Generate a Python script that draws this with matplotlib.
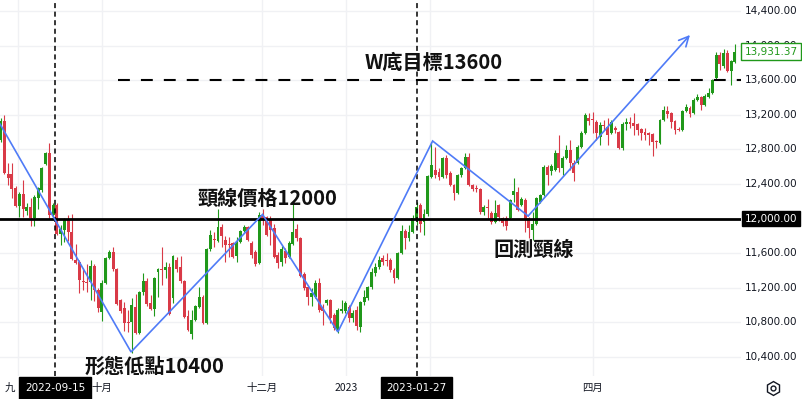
import matplotlib
matplotlib.use("Agg")
import matplotlib.pyplot as plt
import matplotlib.transforms as mtransforms
import numpy as np

plt.rcParams['font.family'] = ['Noto Sans CJK TC', 'DejaVu Sans']

opens = [12909,13129,12516,12516,12354,12146,12284,12088,12134,12007,12238,12331,12631,12758,12042,12157,11822,11868,11996,11845,
         11522,11498,11279,11267,11267,11452,11175,10920,11256,11545,11614,11418,11059,10967,10805,10805,10979,10678,11152,11279,
         11024,10955,11383,11418,11406,11441,11082,11522,11441,11279,10874,10666,10828,10979,11094,10793,11649,11764,11741,11903,
         11753,11707,11718,11568,11730,11857,11903,11718,11614,11487,12030,12019,11984,11892,11579,11498,11626,11556,11707,11880,
         11776,11360,11210,11094,11094,11256,10979,11024,11059,10886,10701,10932,10932,10979,10850,10944,10747,11036,11082,11210,
         11371,11441,11545,11522,11522,11406,11314,11603,11857,11776,11845,11984,12157,11961,12053,12481,12562,12539,12481,12701,
         12527,12389,12296,12504,12585,12712,12389,12354,12342,12076,12134,12065,11961,12157,12007,12007,12007,12273,12308,12157,
         12215,12007,11868,11938,12192,12273,12597,12550,12562,12758,12585,12701,12793,12643,12643,12828,12990,13163,13152,13117,
         12944,13082,13059,12990,13048,13001,12816,13094,13117,13105,13094,13036,13001,12990,12979,12897,12874,13140,13244,13221,
         13129,13036,13024,13244,13279,13221,13371,13406,13313,13406,13452,13626,13891,13764,13914,13706,13810]
highs = [13163,13198,12643,12643,12377,12308,12446,12180,12238,12273,12366,12597,12770,12874,12180,12180,11926,12007,12042,12053,
         11707,11522,11429,11475,11522,11475,11198,11290,11556,11637,11672,11429,11070,11036,10944,11082,11129,11163,11371,11314,
         11117,11325,11429,11672,11498,11487,11580,11556,11568,11290,10944,10944,11001,11210,11117,11660,11868,11845,12111,11938,
         11799,11787,11730,11787,11868,11926,11915,11741,11637,12080,12111,12030,12030,11938,11614,11684,11660,11741,12169,11938,
         11787,11383,11221,11200,11290,11314,11013,11071,11071,10909,10967,11059,11048,11001,10940,10990,11048,11175,11221,11429,
         11487,11568,11580,11600,11545,11429,11614,11926,11880,11926,12042,12192,12180,12111,12505,12886,12828,12585,12712,12735,
         12550,12400,12516,12597,12758,12758,12400,12389,12354,12157,12227,12088,12215,12169,12019,12030,12227,12470,12366,12250,
         12238,12019,12076,12250,12285,12620,12620,12631,12793,12967,12724,12851,12909,12678,12851,13013,13221,13221,13233,13140,
         13117,13140,13163,13140,13070,13013,13117,13163,13175,13221,13105,13048,13048,13001,12990,12909,13152,13302,13302,13233,
         13140,13059,13256,13325,13302,13394,13441,13418,13441,13510,13614,13926,13926,13961,13949,13833,14019]
lows = [12886,12516,12389,12238,12134,12018,12018,12042,11915,11915,12111,12308,12620,12007,12007,11811,11695,11730,11741,11522,
        11475,11140,11175,11152,11059,11048,10920,10816,11244,11533,11394,11001,10909,10701,10690,10450,10666,10666,11117,10990,
        10944,10874,11094,11233,11314,10886,11024,11383,11256,10851,10701,10608,10816,10967,10780,10780,11626,11672,11730,11672,
        11499,11556,11545,11498,11718,11845,11741,11545,11452,11475,11926,11799,11695,11545,11429,11452,11487,11545,11695,11741,
        11325,11175,11001,10990,11082,10920,10770,11001,10793,10712,10680,10909,10909,10805,10810,10712,10690,11001,11059,11187,
        11337,11418,11460,11450,11383,11256,11302,11591,11649,11741,11830,11926,11845,11811,12030,12470,12470,12446,12470,12470,
        12377,12215,12285,12481,12574,12377,12319,12308,12053,12042,12007,11938,11950,11973,11915,11868,11996,12192,12088,12146,
        11845,11776,11753,11926,12180,12262,12389,12504,12550,12539,12504,12690,12562,12435,12631,12816,12979,13082,12990,12909,
        12851,13024,12851,12979,12990,12805,12793,13024,13048,12967,12967,12909,12909,12851,12724,12816,12863,13129,13163,13048,
        12979,13013,13013,13233,13175,13210,13360,13256,13302,13394,13441,13614,13718,13741,13695,13545,13799]
closes = [13129,12527,12470,12342,12146,12284,12111,12134,12007,12250,12354,12585,12758,12042,12157,11822,11880,11996,11845,11533,
          11487,11290,11267,11256,11452,11175,10967,11256,11545,11614,11418,11013,10932,10793,10793,11001,10678,11152,11279,11013,
          10955,11314,11418,11406,11441,10897,11568,11418,11279,10863,10712,10828,10990,11094,10793,11649,11811,11753,11903,11799,
          11695,11695,11556,11730,11857,11903,11753,11579,11475,12042,11996,11811,11868,11556,11487,11649,11545,11718,11845,11776,
          11337,11198,11094,11140,11256,10944,10932,11059,10851,10735,10944,10955,11024,10851,10910,10759,11036,11094,11210,11383,
          11441,11522,11498,11510,11406,11314,11603,11857,11776,11845,12007,12134,11938,12053,12493,12620,12504,12481,12701,12504,
          12389,12296,12504,12585,12712,12389,12342,12342,12076,12134,12123,11961,12065,12019,11950,11915,12215,12319,12100,12227,
          11984,11892,11938,12238,12273,12597,12504,12608,12758,12585,12701,12793,12643,12527,12828,12990,13198,13129,13140,12990,
          13082,13071,12967,13117,13024,12816,13094,13117,13094,13071,13024,12990,12967,12967,12886,12886,13140,13256,13210,13117,
          13024,13024,13244,13290,13210,13371,13406,13313,13418,13452,13602,13891,13787,13914,13706,13822,13931.37]

# pattern annotation vertices (candle index, price)
pattern_idx = [-0.19, 34.8, 69.9, 90.0, 115.3, 140.8, 184.0]
pattern_px = [13094, 10458, 12048, 10690, 12897, 12030, 14123]

price_ticks = [14400, 14000, 13600, 13200, 12800, 12400, 12000, 11600, 11200, 10800, 10400]
month_pos = [4.6, 27.0, 69.8, 92.2, 114.6, 158.0]
month_labels = ['九', '十月', '十二月', '2023', '', '四月']
marked_dates = ['2022-09-15', '2023-01-27']
marked_idx = [14.5, 111.0]
last_price = closes[-1]

W, H = 802, 399
fig = plt.figure(figsize=(W / 100, H / 100), dpi=100)
plot_right = 741
plot_bottom = 376
ax = fig.add_axes([0, (H - plot_bottom) / H, plot_right / W, plot_bottom / H])
spacing = 3.746
ax.set_xlim(-0.7 / spacing, (plot_right - 0.7) / spacing)
scale = 0.0865
ax.set_ylim(10400 - (plot_bottom - 357) / scale, 14400 + 11 / scale)
for s in ax.spines.values():
    s.set_visible(False)
ax.set_xticks([])
ax.set_yticks([])

grid_c = '#f0f1f4'
for p in price_ticks:
    ax.axhline(p, color=grid_c, lw=1.0, zorder=0)
for m in month_pos:
    ax.axvline(m, color=grid_c, lw=1.0, zorder=0)

green = '#20981a'
red = '#d93a47'
n = len(closes)
x = np.arange(n)
o = np.array(opens, float); c = np.array(closes, float)
hh = np.array(highs, float); ll = np.array(lows, float)
cols = [green if cc >= oo else red for oo, cc in zip(o, c)]
ax.vlines(x, ll, hh, colors=cols, lw=0.8, zorder=2)
bottoms = np.minimum(o, c)
heights = np.maximum(np.abs(c - o), 12)
ax.bar(x, heights, bottom=bottoms, width=0.78, color=cols, linewidth=0, zorder=3)

# neckline
ax.axhline(12000, color='black', lw=2.0, zorder=4)
# target dashed line
ax.plot([31.3, (plot_right - 0.7) / spacing], [13600, 13600], color='black', lw=1.5,
        linestyle=(0, (5.7, 5.3)), zorder=4)
# vertical dashed date lines
for mi in marked_idx:
    ax.axvline(mi, color='black', lw=1.1, linestyle=(0, (3.3, 2.3)), zorder=4)

# pattern lines
blue = '#4f7bf7'
ax.plot(pattern_idx[:-1], pattern_px[:-1], color=blue, lw=1.2, zorder=5, solid_joinstyle='miter')
ax.annotate('', xy=(pattern_idx[-1], pattern_px[-1]), xytext=(pattern_idx[-2], pattern_px[-2]),
            arrowprops=dict(arrowstyle='->,head_length=0.7,head_width=0.35', color=blue, lw=1.2,
                            shrinkA=0, shrinkB=0), zorder=5)

# text annotations
tfs = 14.5
tw = 'bold'
ax.text(97.2, 13810, 'W底目標13600', fontsize=tfs, ha='left', va='center', color='#111111', weight=tw, zorder=6)
ax.text(52.4, 12235, '頸線價格12000', fontsize=tfs, ha='left', va='center', color='#111111', weight=tw, zorder=6)
ax.text(22.5, 10290, '形態低點10400', fontsize=tfs, ha='left', va='center', color='#111111', weight=tw, zorder=6)
ax.text(131.6, 11640, '回測頸線', fontsize=tfs, ha='left', va='center', color='#111111', weight=tw, zorder=6)

# right price scale
trans = mtransforms.blended_transform_factory(ax.transAxes, ax.transData)
xr = (plot_right + 30) / plot_right
for p in price_ticks:
    if p == 12000:
        ax.text(xr, p, f'{p:,.2f}', transform=trans, ha='center', va='center', fontsize=7.5,
                color='white', family='DejaVu Sans', clip_on=False, zorder=7,
                bbox=dict(boxstyle='square,pad=0.25', fc='black', ec='black'))
    else:
        ax.text(xr, p, f'{p:,.2f}', transform=trans, ha='center', va='center', fontsize=7.5,
                color='#131722', family='DejaVu Sans', clip_on=False, zorder=7)
ax.text(xr, last_price, f'{last_price:,.2f}', transform=trans, ha='center', va='center', fontsize=7.5,
        color='#20981a', family='DejaVu Sans', clip_on=False, zorder=8,
        bbox=dict(boxstyle='square,pad=0.3', fc='white', ec='#20981a', lw=1.0))

# time axis labels
ty = (H - 388) / H
for m, lab in zip(month_pos, month_labels):
    if lab:
        xp = (0.7 + m * spacing) / W
        if lab == '九':
            xp = 10 / W
        fig.text(xp, ty, lab, ha='center', va='center', fontsize=7.5, color='#131722',
                 family=['Noto Sans CJK TC', 'DejaVu Sans'])
for mi, lab in zip(marked_idx, marked_dates):
    xp = (0.7 + mi * spacing) / W
    fig.text(xp, ty, lab, ha='center', va='center', fontsize=7.5, color='white', family='DejaVu Sans',
             zorder=10, bbox=dict(boxstyle='square,pad=0.55', fc='black', ec='black'))

# settings icon
fig.add_artist(plt.Line2D([773 / W], [ty], marker='h', markersize=10, mfc='white', mec='#131722', mew=1.0))
fig.add_artist(plt.Line2D([773 / W], [ty], marker='o', markersize=3.5, mfc='white', mec='#131722', mew=1.0))

fig.savefig('out.png', dpi=100, facecolor='white')
